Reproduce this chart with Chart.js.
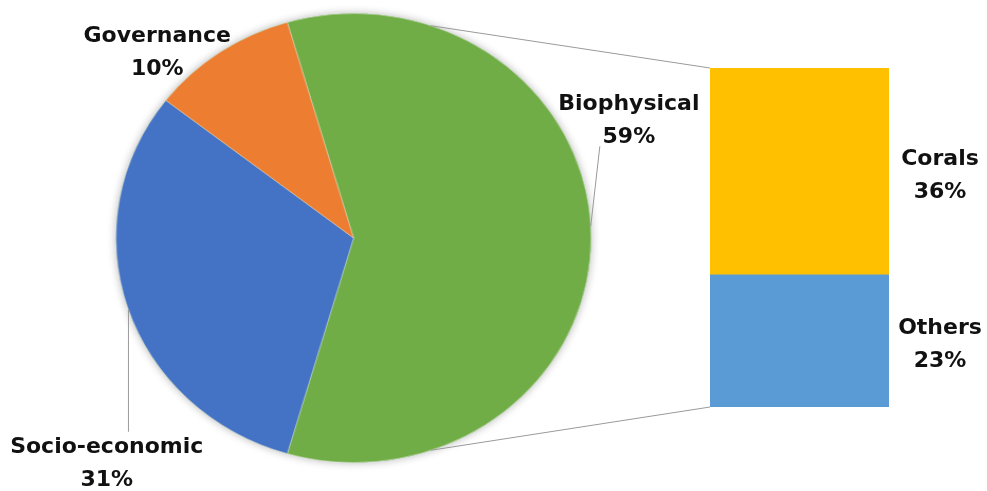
<!DOCTYPE html>
<html>
<head>
<meta charset="utf-8">
<script src="https://cdn.jsdelivr.net/npm/chart.js@4.4.0/dist/chart.umd.min.js"></script>
<style>
  html, body { margin: 0; padding: 0; background: #fff; }
  #wrap { position: relative; width: 987px; height: 491px; overflow: hidden; }
  #wrap canvas { position: absolute; left: 0; top: 0; }
</style>
</head>
<body>
<div id="wrap">
  <!-- the pie in the picture is a little wider than tall, so its canvas is stretched sideways -->
  <canvas id="pieChart" width="933" height="491" style="width:987px;height:491px"></canvas>
  <canvas id="barChart" width="987" height="491" style="width:987px;height:491px"></canvas>
</div>
<script>
const pieLabels = ['Biophysical', 'Socio-economic', 'Governance'];
const pieValues = [59, 31, 10];
const pieColors = ['#70AD47', '#4472C4', '#ED7D31'];

// stacked bar, bottom to top
const barLabels = ['Others', 'Corals'];
const barValues = [23, 36];
const barColors = ['#5B9BD5', '#FFC000'];

const labelFont = 'bold 22px "DejaVu Sans", sans-serif';
const textColor = '#111111';
const lineColor = '#9a9a9a';

// where the pie labels sit: angle (deg) and distance (x radius) from the pie centre
const pieLabelPos = [
  { angle: -24.7, dist: 1.276, leader: { from: -3, dx: -29, dy: 28 } },
  { angle: 136.2, dist: 1.44, leader: { from: 161.4, vertical: true, dy: -30 } },
  { angle: -134.7, dist: 1.175 }
];

const pieTotal = pieValues.reduce((a, b) => a + b, 0);
const barTotal = barValues.reduce((a, b) => a + b, 0);

// soft halo under the pie
const pieHalo = {
  id: 'pieHalo',
  beforeDatasetsDraw(chart) {
    const arc = chart.getDatasetMeta(0).data[0];
    const ctx = chart.ctx;
    ctx.save();
    ctx.shadowColor = 'rgba(0, 0, 0, 0.3)';
    ctx.shadowBlur = 8;
    ctx.fillStyle = pieColors[0];
    ctx.beginPath();
    ctx.arc(arc.x, arc.y, arc.outerRadius, 0, Math.PI * 2);
    ctx.fill();
    ctx.restore();
  }
};

const pieChart = new Chart(document.getElementById('pieChart'), {
  type: 'pie',
  data: {
    labels: pieLabels,
    datasets: [{
      data: pieValues,
      backgroundColor: pieColors,
      borderColor: 'rgba(255, 255, 255, 0.35)',
      borderWidth: 1,
      hoverOffset: 0
    }]
  },
  options: {
    responsive: false,
    animation: false,
    events: [],
    // biggest slice centred on 3 o'clock, like the bar-of-pie in Excel
    rotation: 90 - (pieValues[0] / pieTotal) * 180,
    layout: { padding: { left: 109.2, right: 373.8, top: 13, bottom: 28 } },
    plugins: { legend: { display: false }, tooltip: { enabled: false } }
  },
  plugins: [pieHalo]
});

function drawLabel(ctx, name, pct, cx, cy) {
  ctx.font = labelFont;
  ctx.fillStyle = textColor;
  ctx.textAlign = 'center';
  ctx.textBaseline = 'alphabetic';
  ctx.fillText(name, cx, cy - 8.5);
  ctx.fillText(pct, cx, cy + 24.5);
}

function line(ctx, a, b) {
  ctx.beginPath();
  ctx.moveTo(a.x, a.y);
  ctx.lineTo(b.x, b.y);
  ctx.stroke();
}

// connectors, leader lines and all the labels go on the top canvas
const overlay = {
  id: 'overlay',
  afterDatasetsDraw(chart) {
    const ctx = chart.ctx;
    const pieMeta = pieChart.getDatasetMeta(0);
    const sx = pieChart.canvas.clientWidth / pieChart.width;
    const c = pieMeta.data[0];
    const toPage = (deg, f) => {
      const a = deg * Math.PI / 180;
      return {
        x: (c.x + c.outerRadius * f * Math.cos(a)) * sx,
        y: c.y + c.outerRadius * f * Math.sin(a)
      };
    };

    const big = pieMeta.data[0];
    const mid = (big.startAngle + big.endAngle) / 2 * 180 / Math.PI;
    const top = chart.getDatasetMeta(1).data[0];
    const bottom = chart.getDatasetMeta(0).data[0];
    const barLeft = top.x - top.width / 2;
    const barRight = top.x + top.width / 2;

    ctx.save();
    ctx.strokeStyle = lineColor;
    ctx.lineWidth = 1;
    line(ctx, toPage(mid - 71, 1), { x: barLeft, y: top.y });
    line(ctx, toPage(mid + 71, 1), { x: barLeft, y: bottom.base });

    pieLabelPos.forEach((p, i) => {
      const pos = toPage(p.angle, p.dist);
      const pct = Math.round(pieValues[i] / pieTotal * 100) + '%';
      if (p.leader) {
        const from = toPage(p.leader.from, 1);
        const to = p.leader.vertical
          ? { x: from.x, y: pos.y + p.leader.dy }
          : { x: pos.x + p.leader.dx, y: pos.y + p.leader.dy };
        line(ctx, from, to);
      }
      drawLabel(ctx, pieLabels[i], pct, pos.x, pos.y);
    });

    barLabels.forEach((name, i) => {
      const el = chart.getDatasetMeta(i).data[0];
      drawLabel(ctx, name, barValues[i] + '%', barRight + 51, (el.y + el.base) / 2 + 2);
    });
    ctx.restore();
  }
};

const barChart = new Chart(document.getElementById('barChart'), {
  type: 'bar',
  data: {
    labels: [pieLabels[0]],
    datasets: barLabels.map((name, i) => ({
      label: name,
      data: [barValues[i]],
      backgroundColor: barColors[i],
      borderWidth: 0,
      barPercentage: 1,
      categoryPercentage: 1
    }))
  },
  options: {
    responsive: false,
    animation: false,
    events: [],
    layout: { padding: { left: 710, right: 98, top: 68, bottom: 84 } },
    scales: {
      x: { stacked: true, display: false },
      y: { stacked: true, display: false, min: 0, max: barTotal }
    },
    plugins: { legend: { display: false }, tooltip: { enabled: false } }
  },
  plugins: [overlay]
});
</script>
</body>
</html>
